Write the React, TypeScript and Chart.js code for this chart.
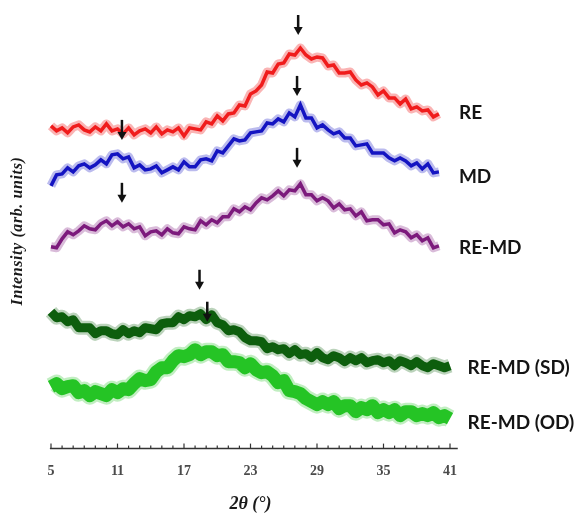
import { useEffect, useRef } from 'react';
import { Chart, registerables } from 'chart.js';

Chart.register(...registerables);

// 2θ angles (degrees) at which the patterns were read
const angles = [5, 5.5, 6, 6.5, 7, 7.5, 8, 8.5, 9, 9.5, 10, 10.5, 11, 11.5, 12, 12.5, 13, 13.5, 14, 14.5, 15, 15.5, 16, 16.5, 17, 17.5, 18, 18.5, 19, 19.5, 20, 20.5, 21, 21.5, 22, 22.5, 23, 23.5, 24, 24.5, 25, 25.5, 26, 26.5, 27, 27.5, 28, 28.5, 29, 29.5, 30, 30.5, 31, 31.5, 32, 32.5, 33, 33.5, 34, 34.5, 35, 35.5, 36, 36.5, 37, 37.5, 38, 38.5, 39, 39.5, 40, 40.5, 41, 41.5];

const seriesNames = ['RE', 'MD', 'RE-MD', 'RE-MD (SD)', 'RE-MD (OD)'];

// Intensities (arb. units, stacked with offsets as in the figure)
const reValues = [323, 318, 321, 316, 322, 324, 319, 317, 322, 318, 325, 318, 320, 315, 321, 314, 318, 320, 316, 322, 315, 319, 317, 321, 313, 321, 320, 319, 327, 325, 333, 328, 335, 336, 344, 343, 355, 358, 364, 377, 376, 385, 386, 395, 394, 401, 394, 390, 392, 391, 383, 384, 376, 376, 377, 369, 364, 366, 362, 354, 358, 351, 351, 345, 350, 340, 342, 338, 339, 332, 335];
const mdValues = [263, 274, 275, 281, 277, 283, 285, 281, 284, 289, 285, 294, 295, 290, 292, 281, 284, 279, 280, 283, 276, 279, 282, 279, 287, 282, 282, 289, 290, 288, 298, 296, 303, 310, 308, 309, 316, 317, 318, 326, 325, 330, 327, 336, 332, 344, 331, 331, 321, 324, 319, 315, 317, 311, 311, 303, 304, 305, 296, 296, 296, 291, 288, 291, 288, 283, 286, 280, 285, 276, 277];
const remdValues = [202, 201, 210, 217, 214, 218, 223, 220, 219, 225, 228, 223, 227, 222, 225, 220, 222, 213, 217, 218, 214, 220, 216, 215, 222, 220, 219, 228, 224, 229, 226, 232, 232, 240, 237, 242, 239, 246, 251, 249, 253, 258, 253, 259, 258, 265, 254, 254, 248, 251, 248, 241, 245, 239, 240, 233, 237, 228, 229, 229, 224, 225, 216, 219, 217, 211, 214, 208, 211, 201, 203];
const sdValues = [137, 131, 132, 127, 129, 121, 121, 121, 115, 118, 118, 115, 114, 119, 115, 118, 116, 121, 120, 119, 125, 126, 126, 132, 129, 133, 132, 135, 129, 134, 126, 124, 118, 119, 117, 111, 108, 108, 107, 100, 102, 99, 100, 95, 99, 94, 95, 91, 96, 91, 89, 93, 91, 87, 91, 88, 91, 86, 88, 89, 86, 88, 83, 88, 86, 83, 87, 83, 81, 85, 83, 81, 83, 79];
const odValues = [62, 65, 60, 62, 63, 56, 58, 53, 57, 55, 53, 59, 56, 60, 59, 65, 70, 68, 69, 77, 81, 81, 88, 93, 92, 94, 99, 94, 97, 97, 93, 94, 87, 87, 86, 81, 85, 79, 76, 77, 73, 66, 68, 58, 57, 55, 50, 47, 44, 47, 44, 47, 40, 43, 43, 37, 41, 39, 43, 36, 39, 36, 39, 33, 37, 37, 33, 35, 33, 36, 31, 33, 30, 32];

const tickLabels = [5, 11, 17, 23, 29, 35, 41];

// Peak markers: 2θ position and the intensity level of the arrow tip
const arrowAngles = [27.3, 27.2, 11.4, 27.2, 11.4, 18.4, 19.1];
const arrowTips = [414, 353, 309, 281, 246, 159, 127];

// Intensity level at which each series name is written
const labelLevels = [336, 272, 201, 81, 26];

const seriesValues = [reValues, mdValues, remdValues, sdValues, odValues];
const seriesColors = ['#f01c1c', '#1414c2', '#7c1a7c', '#0d5e0d', '#25c425'];
const haloColors = ['rgba(240,40,40,0.35)', 'rgba(30,30,200,0.3)', 'rgba(130,30,130,0.3)', 'rgba(30,110,30,0.3)', 'rgba(50,200,50,0.3)'];
const seriesWidths = [3.5, 3.5, 3.5, 9, 13];
const haloWidths = [9, 9, 9, 14, 18];

const decorPlugin = {
  id: 'decor',
  afterDatasetsDraw(chart: any) {
    const ctx = chart.ctx;
    const xs = chart.scales.x;
    const ys = chart.scales.y;
    const area = chart.chartArea;
    ctx.save();

    // axis line and tick marks (pointing up)
    const yAxis = area.bottom;
    ctx.strokeStyle = '#333';
    ctx.lineWidth = 1.5;
    ctx.beginPath();
    ctx.moveTo(xs.getPixelForValue(4.9), yAxis);
    ctx.lineTo(xs.getPixelForValue(41.7), yAxis);
    ctx.stroke();
    ctx.lineWidth = 1.2;
    for (let v = 5; v <= 41; v++) {
      const px = xs.getPixelForValue(v);
      const len = tickLabels.includes(v) ? 5 : 3;
      ctx.beginPath();
      ctx.moveTo(px, yAxis);
      ctx.lineTo(px, yAxis - len);
      ctx.stroke();
    }

    // arrows
    ctx.fillStyle = '#111';
    ctx.strokeStyle = '#111';
    arrowAngles.forEach((a, i) => {
      const px = xs.getPixelForValue(a);
      const tip = ys.getPixelForValue(arrowTips[i]);
      ctx.lineWidth = 2.5;
      ctx.beginPath();
      ctx.moveTo(px, tip - 20);
      ctx.lineTo(px, tip - 6);
      ctx.stroke();
      ctx.beginPath();
      ctx.moveTo(px - 4.5, tip - 8);
      ctx.lineTo(px + 4.5, tip - 8);
      ctx.lineTo(px, tip);
      ctx.closePath();
      ctx.fill();
    });

    // series names
    ctx.fillStyle = '#141414';
    ctx.font = 'bold 19px Lato';
    ctx.textAlign = 'left';
    ctx.textBaseline = 'middle';
    seriesNames.forEach((name, i) => {
      const xa = i < 3 ? xs.getPixelForValue(40) + 20 : xs.getPixelForValue(41.5) + 12;
      ctx.fillText(name, xa, ys.getPixelForValue(labelLevels[i]));
    });

    // y-axis title
    ctx.translate(18, 231);
    ctx.rotate(-Math.PI / 2);
    ctx.font = 'italic bold 16px "Liberation Serif"';
    ctx.letterSpacing = '0.6px';
    ctx.textAlign = 'center';
    ctx.fillStyle = '#1a1a1a';
    ctx.fillText('Intensity (arb. units)', 0, 0);
    ctx.restore();
  },
};

export default function App() {
  const ref = useRef<HTMLCanvasElement>(null);
  useEffect(() => {
    if (!ref.current) return;
    const points = (vals: number[]) => vals.map((v, j) => ({ x: angles[j], y: v }));
    const main = seriesValues.map((vals, i) => ({
      label: seriesNames[i],
      data: points(vals),
      borderColor: seriesColors[i],
      borderWidth: seriesWidths[i],
      borderJoinStyle: i >= 3 ? 'round' : 'miter',
      pointRadius: 0,
      tension: 0,
      fill: false,
      clip: false,
      order: 0,
    }));
    const halos = seriesValues.map((vals, i) => ({
      label: seriesNames[i] + ' halo',
      data: points(vals),
      borderColor: haloColors[i],
      borderWidth: haloWidths[i],
      borderJoinStyle: 'round',
      pointRadius: 0,
      tension: 0,
      fill: false,
      clip: false,
      order: 1,
    }));
    const chart = new Chart(ref.current, {
      type: 'line',
      data: { datasets: [...main, ...halos] },
      options: {
        animation: false,
        responsive: false,
        events: [],
        layout: { padding: { left: 51, right: 130, top: 20, bottom: 0 } },
        plugins: { legend: { display: false }, tooltip: { enabled: false } },
        scales: {
          x: {
            type: 'linear',
            min: 5,
            max: 41,
            grid: { display: false, drawTicks: false },
            border: { display: false },
            ticks: {
              stepSize: 1,
              autoSkip: false,
              maxRotation: 0,
              padding: 14,
              color: '#4a4a4a',
              font: { family: '"Liberation Serif"', size: 14, weight: 'bold' },
              callback: (v: any) => (tickLabels.includes(Number(v)) ? String(v) : ''),
            },
            title: {
              display: true,
              text: '2θ (°)',
              color: '#1a1a1a',
              font: { family: '"Liberation Serif"', size: 18, style: 'italic', weight: 'bold' },
              padding: { top: 0, bottom: 0 },
            },
          },
          y: { display: false, min: 0, max: 429 },
        },
      },
      plugins: [decorPlugin],
    } as any);
    return () => chart.destroy();
  }, []);
  return (
    <div style={{ position: 'absolute', left: 0, top: 0, width: 580, height: 515, background: '#fff' }}>
      <canvas ref={ref} width={580} height={515} />
    </div>
  );
}
